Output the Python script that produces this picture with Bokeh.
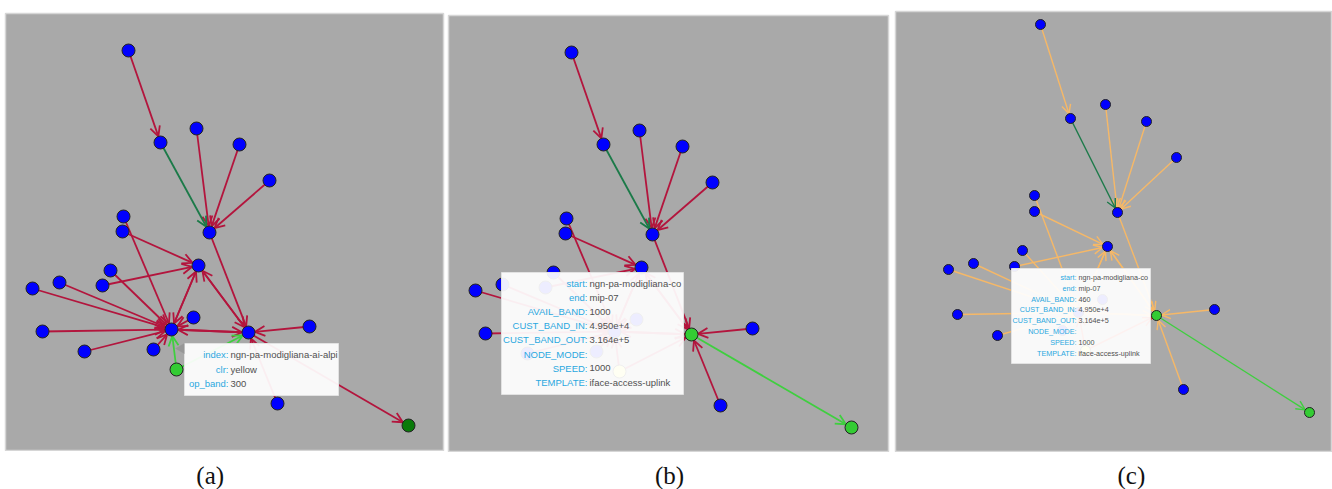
import numpy as np
from bokeh.plotting import figure
from bokeh.models import Range1d, ColumnDataSource, Arrow, OpenHead
from bokeh.core.properties import value
from bokeh.layouts import row, column
from bokeh.embed import file_html
from bokeh.resources import INLINE

# ---------------- data ----------------
node_ids = list(range(1, 24))
# layout shared by panels (a) and (b)
pos_ab_x = [123, 155, 191, 234, 264, 204, 118, 117, 193, 105, 97, 54, 27, 166, 188, 37, 79, 148, 171, 243, 304, 272, 403]
pos_ab_y = [37, 129, 115, 131, 167, 219, 203, 218, 252, 257, 272, 269, 275, 316, 304, 318, 338, 336, 356, 319, 313, 390, 412]
# layout of panel (c)
pos_c_x = [145, 175, 210, 251, 281, 222, 139, 139, 212, 127, 119, 78, 53, 183, 207, 62, 102, 167, 190, 261, 319, 288, 414]
pos_c_y = [13, 107, 93, 110, 146, 201, 184, 200, 235, 239, 255, 252, 258, 301, 288, 303, 324, 319, 339, 304, 298, 378, 401]

edge_src = [1, 2, 3, 4, 5, 6, 7, 8, 11, 10, 12, 13, 16, 17, 18, 15, 14, 9, 9, 20, 14, 20, 19, 19, 21, 22, 20]
edge_dst = [2, 6, 6, 6, 6, 20, 14, 9, 9, 14, 14, 14, 14, 14, 14, 14, 9, 14, 20, 9, 20, 14, 14, 20, 20, 20, 23]

# node states per panel
node_state_a = {19: "sel", 23: "end"}
node_state_b = {19: "cur", 20: "sel", 23: "sel"}
node_state_c = {19: "cur", 20: "sel", 23: "sel"}
# edge states per panel (default "base")
edge_state_a = {(2, 6): "trunk", (19, 14): "sel", (19, 20): "sel"}
edge_state_b = {(2, 6): "trunk", (20, 23): "sel"}
edge_state_c = {(2, 6): "trunk", (20, 23): "sel", (19, 20): "warn", (19, 14): "warn"}

tip_a_labels = ["index:", "clr:", "op_band:"]
tip_a_values = ["ngn-pa-modigliana-ai-alpi", "yellow", "300"]
tip_b_labels = ["start:", "end:", "AVAIL_BAND:", "CUST_BAND_IN:", "CUST_BAND_OUT:", "NODE_MODE:", "SPEED:", "TEMPLATE:"]
tip_b_values = ["ngn-pa-modigliana-co", "mip-07", "1000", "4.950e+4", "3.164e+5", "", "1000", "iface-access-uplink"]
tip_c_labels = tip_b_labels
tip_c_values = ["ngn-pa-modigliana-co", "mip-07", "460", "4.950e+4", "3.164e+5", "", "1000", "iface-access-uplink"]

panel_labels = ["(a)", "(b)", "(c)"]

# ---------------- styles ----------------
NODE_COL = {"base": "#0000ff", "sel": "#33cc33", "end": "#0a7a0a", "cur": "#ffff55"}
EDGE_COL_RED = {"base": "#b3153d", "trunk": "#1b7a48", "sel": "#3fcf3f", "warn": "#b3153d"}
EDGE_COL_ORA = {"base": "#f6b867", "trunk": "#1b7a48", "sel": "#3fcf3f", "warn": "#e2402e"}
LBL_COL = "#2aa8df"
VAL_COL = "#505050"


def make_fig(width, height, bl, br, bt, x0, y0):
    fw = width - bl - br
    fh = height - bt
    p = figure(width=width, height=height,
               x_range=Range1d(x0, x0 + fw), y_range=Range1d(y0 + fh, y0),
               output_backend="svg", toolbar_location=None,
               x_axis_location=None, y_axis_location=None,
               min_border_left=bl, min_border_right=br,
               min_border_top=bt, min_border_bottom=0)
    p.grid.visible = False
    p.background_fill_color = "#a9a9a9"
    p.border_fill_color = "white"
    p.outline_line_color = "#d6d6d6"
    p.outline_line_width = 1.5
    return p


def make_caption(width, height, label, cx, cy):
    q = figure(width=width, height=height,
               x_range=Range1d(0, width), y_range=Range1d(height, 0),
               output_backend="svg", toolbar_location=None,
               x_axis_location=None, y_axis_location=None,
               min_border_left=0, min_border_right=0,
               min_border_top=0, min_border_bottom=0)
    q.grid.visible = False
    q.background_fill_color = "white"
    q.border_fill_color = "white"
    q.outline_line_color = None
    q.text(x=[cx], y=[cy], text=[label], text_align="center", text_baseline="middle",
           text_font=value("Liberation Serif"), text_font_size="25px", text_color="#111111")
    return q


def draw_graph(p, xs, ys, node_state, edge_state, ecols, radius, lw, head):
    xs = np.array(xs, float)
    ys = np.array(ys, float)
    groups = {}
    for s, d in zip(edge_src, edge_dst):
        st = edge_state.get((s, d), "base")
        x0, y0 = xs[s - 1], ys[s - 1]
        x1, y1 = xs[d - 1], ys[d - 1]
        L = np.hypot(x1 - x0, y1 - y0)
        ex = x1 - (x1 - x0) / L * radius
        ey = y1 - (y1 - y0) / L * radius
        g = groups.setdefault(st, dict(x0=[], y0=[], x1=[], y1=[]))
        g["x0"].append(x0); g["y0"].append(y0); g["x1"].append(ex); g["y1"].append(ey)
    order = ["base", "warn", "trunk", "sel"]
    for st in order:
        if st not in groups:
            continue
        c = ecols[st]
        src = ColumnDataSource(groups[st])
        p.add_layout(Arrow(end=OpenHead(size=head, line_color=c, line_width=lw),
                           x_start="x0", y_start="y0", x_end="x1", y_end="y1",
                           source=src, line_color=c, line_width=lw, level="underlay"))
    cols = [NODE_COL[node_state.get(i, "base")] for i in node_ids]
    p.scatter(xs, ys, size=2 * radius, fill_color=cols, line_color="#222222", line_width=1)


def draw_tip(p, left, right, top, bottom, lab_x, val_x, y_first, step, labels, values, fsize, pointer=None):
    p.quad(left=[left], right=[right], top=[top], bottom=[bottom],
           fill_color="white", fill_alpha=0.93, line_color="#e2e2e2", line_width=1)
    ys = [y_first + i * step for i in range(len(labels))]
    p.text(x=[lab_x] * len(labels), y=ys, text=labels, text_align="right", text_baseline="middle",
           text_font_size=fsize, text_color=LBL_COL, text_font=value("Liberation Sans"))
    p.text(x=[val_x] * len(values), y=ys, text=values, text_align="left", text_baseline="middle",
           text_font_size=fsize, text_color=VAL_COL, text_font=value("Liberation Sans"))
    if pointer is not None:
        p.scatter([pointer[0]], [pointer[1]], marker="triangle", size=11, angle=np.pi / 2,
                  fill_color="#8c8c8c", fill_alpha=0.6, line_color=None)


# panel (a)
pa = make_fig(445, 451, 5, 2, 13, 0, 0)
draw_graph(pa, pos_ab_x, pos_ab_y, node_state_a, edge_state_a, EDGE_COL_RED, 6.5, 1.8, 10)
draw_tip(pa, 179, 333, 330, 382, 223, 225, 341, 14.5, tip_a_labels, tip_a_values, "9.5px", pointer=(176, 335))
ca = make_caption(445, 38, panel_labels[0], 208, 24)

# panel (b)
pb = make_fig(446, 452, 3, 3, 15, 0, 0)
draw_graph(pb, pos_ab_x, pos_ab_y, node_state_b, edge_state_b, EDGE_COL_RED, 6.5, 1.8, 10)
draw_tip(pb, 53, 235, 257, 379, 139, 141, 268, 14.1, tip_b_labels, tip_b_values, "9.5px")
cb = make_caption(446, 37, panel_labels[1], 224, 23)

# panel (c)
pc = make_fig(441, 452, 4, 0, 11, 0, 0)
draw_graph(pc, pos_c_x, pos_c_y, node_state_c, edge_state_c, EDGE_COL_ORA, 5, 1.4, 9)
draw_tip(pc, 116, 255, 257, 352, 181, 183, 266, 10.8, tip_c_labels, tip_c_values, "7.2px")
cc = make_caption(441, 37, panel_labels[2], 238, 23)

layout = row(column(pa, ca, spacing=0), column(pb, cb, spacing=0), column(pc, cc, spacing=0), spacing=0)
open("out.html", "w").write(file_html(layout, INLINE))
